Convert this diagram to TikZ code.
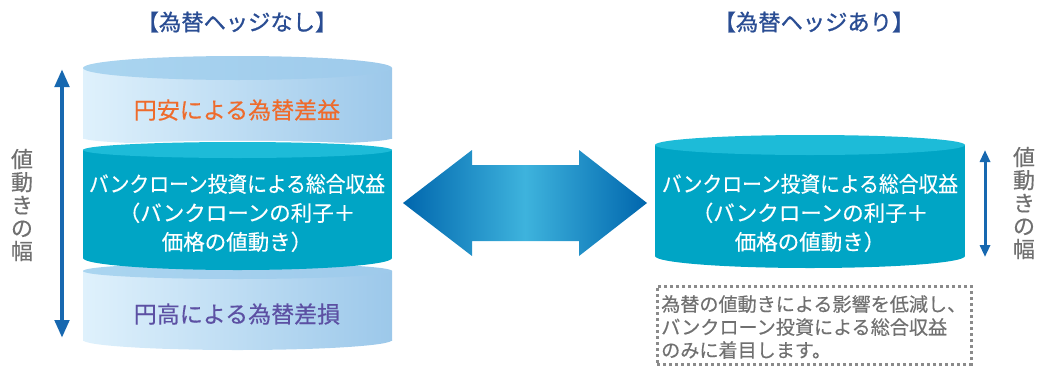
\documentclass[tikz,border=0pt]{standalone}
\usepackage{fontspec}
\usepackage{graphicx}
\setmainfont{Noto Sans CJK JP}
\newfontfamily\titlefont{Noto Sans CJK JP}[FakeBold=1.0]
\newfontfamily\medfont{Noto Sans CJK JP}[FakeBold=0.4]
\usetikzlibrary{arrows.meta}
\definecolor{titleC}{HTML}{2A4D93}
\definecolor{orangeC}{HTML}{EE6B2C}
\definecolor{purpleC}{HTML}{5C50A3}
\definecolor{grayC}{HTML}{707070}
\definecolor{dotC}{HTML}{8A8A8A}
\definecolor{arrC}{HTML}{1768B0}
\definecolor{segL}{HTML}{DFF1FC}
\definecolor{segR}{HTML}{9CC8EA}
\definecolor{segTop}{HTML}{AAD5F0}
\definecolor{segTopR}{HTML}{9ECAEB}
\definecolor{cyanB}{HTML}{00A5C5}
\definecolor{cyanT}{HTML}{1DBBD8}
\definecolor{dblD}{HTML}{0066AD}
\definecolor{dblL}{HTML}{3EB3DD}
\newcommand{\drawsegment}[8]{%
  \path[#7] (#1,#3) rectangle (#2,#5);
  \path[#7] ({(#1+#2)/2},#5) ellipse[x radius={(#2-#1)/2}, y radius=#6];
  \path[#8] ({(#1+#2)/2},#3) ellipse[x radius={(#2-#1)/2}, y radius=#4];
}
\newcommand{\tightline}[1]{\scalebox{0.92}[1]{#1}}
\begin{document}
\begin{tikzpicture}[x=1pt,y=-1pt,
  lightbody/.style={left color=segL, right color=segR},
  lighttop/.style={left color=segTop, right color=segTopR},
  cyanbody/.style={fill=cyanB},
  cyantop/.style={fill=cyanT},
  titletext/.style={text=titleC, font=\titlefont\fontsize{22.3pt}{26pt}\selectfont},
  bigtext/.style={font=\medfont\fontsize{23pt}{28pt}\selectfont},
  midtext/.style={text=white, align=center, font=\medfont\fontsize{21.5pt}{29pt}\selectfont},
  vlabel/.style={text=grayC, align=center, inner sep=0pt, font=\medfont\fontsize{22pt}{23pt}\selectfont},
  boxtext/.style={text=grayC, align=left, anchor=west, inner sep=0pt, font=\medfont\fontsize{19.1pt}{23pt}\selectfont},
  dotbox/.style={draw=dotC, line width=3pt, dash pattern=on 3pt off 3pt, minimum width=314pt, minimum height=78pt, inner sep=0pt},
  vertarrow/.style={draw=arrC, line width=4.5pt, {Triangle[width=14pt,length=18pt]}-{Triangle[width=14pt,length=18pt]}},
  smallarrow/.style={draw=arrC, line width=3pt, {Triangle[width=10pt,length=12pt]}-{Triangle[width=10pt,length=12pt]}}
]
\useasboundingbox (0,0) rectangle (1040,367);

% titles
\node[titletext] (t1) at (237,22) {【為替ヘッジなし】};
\node[titletext] (t2) at (814,22) {【為替ヘッジあり】};

% left cylinder
\drawsegment{83}{392}{68}{12}{138}{7}{lightbody}{lighttop}
\drawsegment{83}{392}{271}{8}{340}{10}{lightbody}{lighttop}
\path[draw=white, line width=2.5pt] (83,150) arc[start angle=180, end angle=360, x radius=154.5, y radius=8];
\path[cyanbody] (83,150) rectangle (392,258);
\path[cyanbody] (237.5,258) ellipse[x radius=154.5, y radius=12];
\path[cyantop] (237.5,150) ellipse[x radius=154.5, y radius=8];

\node[bigtext, text=orangeC] (gain) at (237,110) {円安による為替差益};
\node[bigtext, text=purpleC] (loss) at (237,314) {円高による為替差損};
\node[midtext] (m1) at (237,213) {\tightline{バンクローン投資による総合収益}\\（バンクローンの利子＋\\価格の値動き）};

% left vertical arrow and label
\coordinate (la1) at (62,69);
\coordinate (la2) at (62,338);
\draw[vertarrow] (la1) -- (la2);
\node[vlabel] (vl1) at (22,205) {値\\動\\き\\の\\幅};

% double arrow
\path[left color=dblD, right color=dblD, middle color=dblL]
  (403,203) -- (472,150) -- (472,165) -- (579,165) -- (579,150) -- (647,203)
  -- (579,256) -- (579,241) -- (472,241) -- (472,256) -- cycle;

% right cylinder
\path[cyanbody] (655,145) rectangle (965,256);
\path[cyanbody] (810,256) ellipse[x radius=155, y radius=12];
\path[cyantop] (810,145) ellipse[x radius=155, y radius=10];
\node[midtext] (m2) at (810,213) {\tightline{バンクローン投資による総合収益}\\（バンクローンの利子＋\\価格の値動き）};

% right vertical arrow and label
\coordinate (ra1) at (985,150);
\coordinate (ra2) at (985,257);
\draw[smallarrow] (ra1) -- (ra2);
\node[vlabel] (vl2) at (1024,203) {値\\動\\き\\の\\幅};

% dotted note box
\node[dotbox] (box) at (814,325) {};
\node[boxtext] (note) at (661,327) {為替の値動きによる影響を低減し、\\バンクローン投資による総合収益\\のみに着目します。};
\end{tikzpicture}
\end{document}
